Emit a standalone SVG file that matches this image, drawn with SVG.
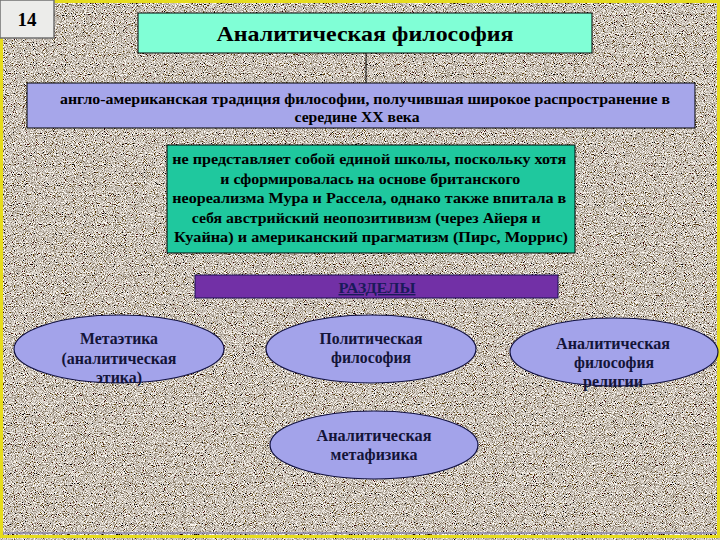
<svg xmlns="http://www.w3.org/2000/svg" width="720" height="540" viewBox="0 0 720 540">
<defs>
<filter id="grain" x="0" y="0" width="720" height="540" filterUnits="userSpaceOnUse">
<feTurbulence type="fractalNoise" baseFrequency="1.1" numOctaves="1" seed="7" result="n"/>
<feColorMatrix type="matrix" values="2.6 0 0 0 -0.71  2.6 0 0 0 -0.76  2.6 0 0 0 -0.82  0 0 0 0 1"/>
</filter>
<style>
.t{font-family:"Liberation Serif","DejaVu Serif","Times New Roman",serif;font-weight:bold;text-anchor:middle;fill:#000}
.e{fill:#a3a3ea;stroke:#101040;stroke-width:1.2}
.et{font-family:"Liberation Serif","DejaVu Serif","Times New Roman",serif;font-weight:bold;font-size:16px;text-anchor:middle;fill:#141438}
</style>
</defs>
<rect x="0" y="0" width="720" height="540" fill="#968a7a"/>
<rect x="0" y="0" width="720" height="540" filter="url(#grain)"/>
<rect x="1.5" y="1.5" width="717" height="535" fill="none" stroke="#e6dc1e" stroke-width="3"/>
<line x1="3" y1="533" x2="717" y2="533" stroke="#8c88a8" stroke-width="1.5"/>

<g id="connectors">
<line x1="366" y1="53" x2="366" y2="83" stroke="#000" stroke-width="1"/>
</g>

<g id="num">
<rect x="0" y="0" width="54" height="38" fill="#ececea" stroke="#707070" stroke-width="1.5"/>
<text class="t" x="27" y="26" font-size="19">14</text>
</g>

<g id="title">
<rect x="138" y="13" width="454" height="40" fill="#80ffd6" stroke="#000" stroke-width="1"/>
<text class="t" x="365" y="41" font-size="22" textLength="297" lengthAdjust="spacingAndGlyphs">Аналитическая философия</text>
</g>

<g id="def">
<rect x="27" y="83" width="668" height="45" fill="#a6a6ea" stroke="#000" stroke-width="1"/>
<text class="t" x="365" y="104" font-size="14" textLength="610" lengthAdjust="spacingAndGlyphs">англо-американская традиция философии, получившая широкое распространение в</text>
<text class="t" x="357" y="122" font-size="14" textLength="125" lengthAdjust="spacingAndGlyphs">середине XX века</text>
</g>

<g id="desc">
<rect x="167" y="145" width="408" height="108" fill="#1fc89e" stroke="#000" stroke-width="1"/>
<text class="t" font-size="14">
<tspan x="371" y="164" textLength="394" lengthAdjust="spacingAndGlyphs">не представляет собой единой школы, поскольку хотя</tspan>
<tspan x="372" y="184" textLength="300" lengthAdjust="spacingAndGlyphs">и сформировалась на основе британского</tspan>
<tspan x="371" y="203" textLength="394" lengthAdjust="spacingAndGlyphs">неореализма Мура и Рассела, однако также впитала в</tspan>
<tspan x="368" y="223" textLength="349" lengthAdjust="spacingAndGlyphs">себя австрийский неопозитивизм (через Айеря и</tspan>
<tspan x="371" y="242" textLength="394" lengthAdjust="spacingAndGlyphs">Куайна) и американский прагматизм (Пирс, Моррис)</tspan>
</text>
</g>

<g id="sections">
<rect x="195" y="275" width="363" height="23" fill="#7230a6" stroke="#1a1050" stroke-width="1"/>
<text class="t" x="377" y="293" font-size="14" style="fill:#1a1a5a" text-decoration="underline" textLength="77" lengthAdjust="spacingAndGlyphs">РАЗДЕЛЫ</text>
</g>

<g id="metaethics">
<ellipse class="e" cx="119" cy="349" rx="105" ry="34"/>
<text class="et"><tspan x="119" y="344" textLength="78" lengthAdjust="spacingAndGlyphs">Метаэтика</tspan><tspan x="119" y="364" textLength="115" lengthAdjust="spacingAndGlyphs">(аналитическая</tspan><tspan x="119" y="383" textLength="46" lengthAdjust="spacingAndGlyphs">этика)</tspan></text>
</g>

<g id="political">
<ellipse class="e" cx="371" cy="349" rx="105" ry="34"/>
<text class="et"><tspan x="371" y="344" textLength="103" lengthAdjust="spacingAndGlyphs">Политическая</tspan><tspan x="371" y="363" textLength="80" lengthAdjust="spacingAndGlyphs">философия</tspan></text>
</g>

<g id="religion">
<ellipse class="e" cx="614" cy="352" rx="104" ry="34"/>
<text class="et"><tspan x="613" y="349" textLength="114" lengthAdjust="spacingAndGlyphs">Аналитическая</tspan><tspan x="614" y="368" textLength="80" lengthAdjust="spacingAndGlyphs">философия</tspan><tspan x="613" y="387" textLength="60" lengthAdjust="spacingAndGlyphs">религии</tspan></text>
</g>

<g id="metaphysics">
<ellipse class="e" cx="374" cy="445" rx="104" ry="34"/>
<text class="et"><tspan x="374" y="441" textLength="115" lengthAdjust="spacingAndGlyphs">Аналитическая</tspan><tspan x="374" y="460" textLength="87" lengthAdjust="spacingAndGlyphs">метафизика</tspan></text>
</g>
</svg>
